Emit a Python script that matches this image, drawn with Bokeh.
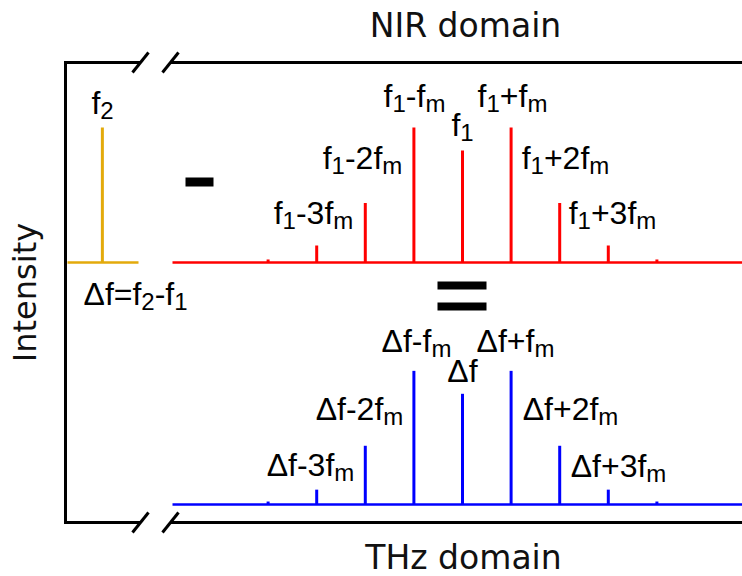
import numpy as np
from bokeh.plotting import figure
from bokeh.models import Range1d
from bokeh.embed import file_html
from bokeh.resources import INLINE
from bokeh.core.properties import value

# ---------------- data ----------------
# harmonic order n of each comb line (frequency = f1 + n*fm, or Δf + n*fm)
orders = [-4, -3, -2, -1, 0, 1, 2, 3, 4]
# relative intensities (strongest line = 1)
nir_amp = [0.022, 0.126, 0.44, 1.0, 0.83, 1.0, 0.44, 0.126, 0.022]
thz_amp = [0.022, 0.11, 0.435, 0.99, 0.82, 0.99, 0.435, 0.11, 0.022]
# the f2 line (other side of the axis break)
f2_pos = [-7.41]
f2_amp = [1.0]
# vertical offset of the NIR trace above the THz trace
nir_base = 1.793
thz_base = 0.0

label_orders = [-3, -2, -1, 0, 1, 2, 3]
nir_labels = ["f_1-3f_m", "f_1-2f_m", "f_1-f_m", "f_1", "f_1+f_m", "f_1+2f_m", "f_1+3f_m"]
thz_labels = ["Δf-3f_m", "Δf-2f_m", "Δf-f_m", "Δf", "Δf+f_m", "Δf+2f_m", "Δf+3f_m"]
f2_label = "f_2"
df_label = "Δf=f_2-f_1"
title_top = "NIR domain"
title_bottom = "THz domain"
y_title = "Intensity"

# ---------------- layout ----------------
W, H = 742, 576
X0, XS = 462.0, 48.6     # pixel of order 0, pixels per order
Y0, YS = 504.0, 135.0    # pixel of THz baseline, pixels per unit intensity
TSHIFT = 12.0            # text baseline correction (pixels)


def dx(px):
    return (px - X0) / XS


def dy(py):
    return (Y0 - py) / YS


p = figure(width=W, height=H, x_range=Range1d(dx(0), dx(W)),
           y_range=Range1d(dy(H), dy(0)), output_backend="svg",
           toolbar_location=None, min_border=0,
           x_axis_location=None, y_axis_location=None)
p.grid.visible = False
p.outline_line_color = None
p.background_fill_color = "white"
p.border_fill_color = "white"

RED = "#ff0000"
BLUE = "#0000ff"
GOLD = "#e3aa0b"
LW = 2.6

# frame with axis breaks
box_lw = 3
p.line([dx(140), dx(65), dx(65), dx(140)], [dy(62), dy(62), dy(522), dy(522)],
       line_color="black", line_width=box_lw, line_join="miter")
p.line([dx(170), dx(W)], [dy(62), dy(62)], line_color="black", line_width=box_lw)
p.line([dx(170), dx(W)], [dy(522), dy(522)], line_color="black", line_width=box_lw)
for yc in (62, 522):
    for xc in (140, 170):
        p.line([dx(xc - 8), dx(xc + 8)], [dy(yc + 10), dy(yc - 10)],
               line_color="black", line_width=box_lw)

# spectra
p.line([dx(172), dx(W)], [nir_base, nir_base], line_color=RED, line_width=LW)
p.segment(x0=orders, y0=[nir_base] * len(orders), x1=orders,
          y1=[nir_base + a for a in nir_amp], line_color=RED, line_width=LW + 0.4)
p.line([dx(172), dx(W)], [thz_base, thz_base], line_color=BLUE, line_width=LW)
p.segment(x0=orders, y0=[thz_base] * len(orders), x1=orders,
          y1=[thz_base + a for a in thz_amp], line_color=BLUE, line_width=LW + 0.4)
p.line([dx(67), dx(138)], [nir_base, nir_base], line_color=GOLD, line_width=LW)
p.segment(x0=f2_pos, y0=[nir_base], x1=f2_pos, y1=[nir_base + f2_amp[0]],
          line_color=GOLD, line_width=LW + 0.4)

# minus and equals signs
p.quad(left=[dx(185)], right=[dx(213)], top=[dy(177)], bottom=[dy(186)],
       fill_color="black", line_color=None)
p.quad(left=[dx(437), dx(437)], right=[dx(486), dx(486)], top=[dy(281), dy(302)],
       bottom=[dy(289), dy(310)], fill_color="black", line_color=None)

# ---------------- labels with subscripts ----------------
FS, SS = 32.0, 24.0
SUB_DROP = 7.5
WID = {'f': 278, '1': 556, '2': 556, '3': 556, '-': 333, '+': 584, '=': 584,
       'm': 833, 'Δ': 668}

main_x, main_y, main_t = [], [], []
sub_x, sub_y, sub_t = [], [], []


def parse(markup):
    segs = []
    i = 0
    cur = ""
    while i < len(markup):
        c = markup[i]
        if c == "_":
            if cur:
                segs.append((cur, False))
                cur = ""
            segs.append((markup[i + 1], True))
            i += 2
            continue
        cur += c
        i += 1
    if cur:
        segs.append((cur, False))
    return segs


def seg_width(s, sub):
    size = SS if sub else FS
    return sum(WID.get(ch, 556) for ch in s) * size / 1000.0


def add_label(markup, px, base, align="center"):
    segs = parse(markup)
    total = sum(seg_width(s, b) for s, b in segs)
    x = px - total / 2 if align == "center" else px
    base = base - TSHIFT
    for s, b in segs:
        if b:
            sub_x.append(dx(x)); sub_y.append(dy(base + SUB_DROP)); sub_t.append(s)
        else:
            main_x.append(dx(x)); main_y.append(dy(base)); main_t.append(s)
        x += seg_width(s, b)


nir_pos = [(313, 224), (362, 169), (414, 107), (462, 136), (512, 107), (565, 169), (612, 224)]
thz_pos = [(310, 476), (359, 420), (416, 352), (462, 382), (515, 352), (570, 420), (618, 477)]
for lab, (cx, by) in zip(nir_labels, nir_pos):
    add_label(lab, cx, by)
for lab, (cx, by) in zip(thz_labels, thz_pos):
    add_label(lab, cx, by)
add_label(f2_label, 102, 114)
add_label(df_label, 83, 305, align="left")

p.text(x=main_x, y=main_y, text=main_t, text_font=value("Liberation Sans"),
       text_font_size="32px", text_align="left", text_baseline="alphabetic",
       text_color="black")
p.text(x=sub_x, y=sub_y, text=sub_t, text_font=value("Liberation Sans"),
       text_font_size="24px", text_align="left", text_baseline="alphabetic",
       text_color="black")

# titles
p.text(x=[dx(465)], y=[dy(37 - TSHIFT)], text=[title_top], text_font=value("DejaVu Sans"),
       text_font_size="33px", text_align="center", text_baseline="alphabetic",
       text_color="#111111")
p.text(x=[dx(463)], y=[dy(569 - TSHIFT)], text=[title_bottom], text_font=value("DejaVu Sans"),
       text_font_size="33px", text_align="center", text_baseline="alphabetic",
       text_color="#111111")
p.text(x=[dx(36 - TSHIFT)], y=[dy(292)], text=[y_title], text_font=value("DejaVu Sans"),
       text_font_size="32px", text_align="center", text_baseline="alphabetic",
       angle=np.pi / 2, text_color="#111111")

open("out.html", "w").write(file_html(p, INLINE))
